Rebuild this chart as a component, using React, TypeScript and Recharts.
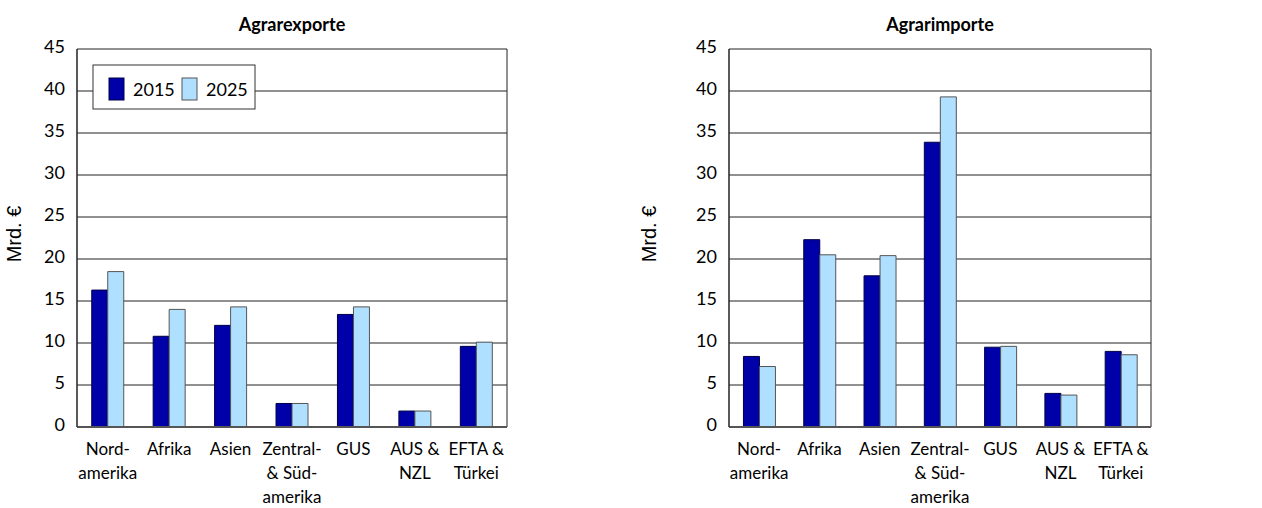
import React from 'react';
import { BarChart, Bar, XAxis, YAxis, CartesianGrid } from 'recharts';

const regions = ['Nord-\namerika', 'Afrika', 'Asien', 'Zentral-\n& Süd-\namerika', 'GUS', 'AUS &\nNZL', 'EFTA &\nTürkei'];
const exports2015 = [16.3, 10.8, 12.1, 2.8, 13.4, 1.9, 9.6];
const exports2025 = [18.5, 14.0, 14.3, 2.8, 14.3, 1.9, 10.1];
const imports2015 = [8.4, 22.3, 18.0, 33.9, 9.5, 4.0, 9.0];
const imports2025 = [7.2, 20.5, 20.4, 39.3, 9.6, 3.8, 8.6];
const yTicks = [0, 5, 10, 15, 20, 25, 30, 35, 40, 45];

const DARK = '#0000A8';
const LIGHT = '#B0E0FF';
const FONT = 'Lato, "Open Sans", sans-serif';

const buildRows = (a: number[], b: number[]) =>
  regions.map((name, i) => ({ name, y2015: a[i], y2025: b[i] }));

const CategoryTick = (props: any) => {
  const { x, y, payload } = props;
  const lines = String(payload.value).split('\n');
  return (
    <text x={x} y={y + 20} textAnchor="middle" fontSize={17} fontFamily={FONT} fill="#000">
      {lines.map((l, i) => (
        <tspan key={i} x={x} dy={i === 0 ? 0 : 24}>{l}</tspan>
      ))}
    </text>
  );
};

type PanelProps = {
  title: string;
  rows: { name: string; y2015: number; y2025: number }[];
  width: number;
  plotLeft: number;
  plotRight: number;
  labelX: number;
  legend?: boolean;
};

function Panel({ title, rows, width, plotLeft, plotRight, labelX, legend }: PanelProps) {
  const yAxisWidth = 60;
  const plotCenter = (plotLeft + plotRight) / 2;
  return (
    <BarChart
      width={width}
      height={508}
      data={rows}
      margin={{ top: 49, right: width - plotRight, bottom: 6, left: plotLeft - yAxisWidth }}
      barCategoryGap="24%"
      barGap={0}
    >
      <CartesianGrid
        stroke="#222"
        strokeWidth={1}
        verticalCoordinatesGenerator={({ offset }: any) => [offset.left, offset.left + offset.width]}
      />
      <XAxis
        dataKey="name"
        interval={0}
        height={75}
        tickLine={false}
        axisLine={{ stroke: '#555', strokeWidth: 2 }}
        tick={<CategoryTick />}
      />
      <YAxis
        domain={[0, 45]}
        ticks={yTicks}
        width={yAxisWidth}
        tickLine={false}
        axisLine={{ stroke: '#222' }}
        tick={{ fontSize: 18, fontFamily: FONT, fill: '#000', dy: -2 }}
        tickMargin={6}
      />
      <Bar dataKey="y2015" fill={DARK} stroke="#000044" strokeWidth={1} isAnimationActive={false} />
      <Bar dataKey="y2025" fill={LIGHT} stroke="#555" strokeWidth={1} isAnimationActive={false} />
      <text x={plotCenter} y={31} textAnchor="middle" fontSize={18} fontWeight="bold" fontFamily={FONT} fill="#000">
        {title}
      </text>
      <text
        x={labelX}
        y={234}
        transform={`rotate(-90 ${labelX} 234)`}
        textAnchor="middle"
        dominantBaseline="middle"
        fontSize={20}
        fontFamily='"Liberation Sans", Arial, sans-serif'
        fill="#000"
      >
        Mrd. €
      </text>
      {legend && (
        <g>
          <rect x={93} y={65} width={162} height={44} fill="#fff" stroke="#333" strokeWidth={1} />
          <rect x={109} y={78} width={15} height={22} fill={DARK} stroke="#000044" />
          <text x={133} y={96} fontSize={18} fontFamily={FONT} fill="#000">2015</text>
          <rect x={182} y={78} width={15} height={22} fill={LIGHT} stroke="#555" />
          <text x={206} y={96} fontSize={18} fontFamily={FONT} fill="#000">2025</text>
        </g>
      )}
    </BarChart>
  );
}

export default function App() {
  return (
    <div style={{ position: 'absolute', left: 0, top: 0, width: 1262, height: 508, background: '#fff' }}>
      <div style={{ position: 'absolute', left: 0, top: 0 }}>
        <Panel title="Agrarexporte" rows={buildRows(exports2015, exports2025)} width={620} plotLeft={77} plotRight={507} labelX={16} legend />
      </div>
      <div style={{ position: 'absolute', left: 620, top: 0 }}>
        <Panel title="Agrarimporte" rows={buildRows(imports2015, imports2025)} width={642} plotLeft={109} plotRight={531} labelX={31} />
      </div>
    </div>
  );
}
